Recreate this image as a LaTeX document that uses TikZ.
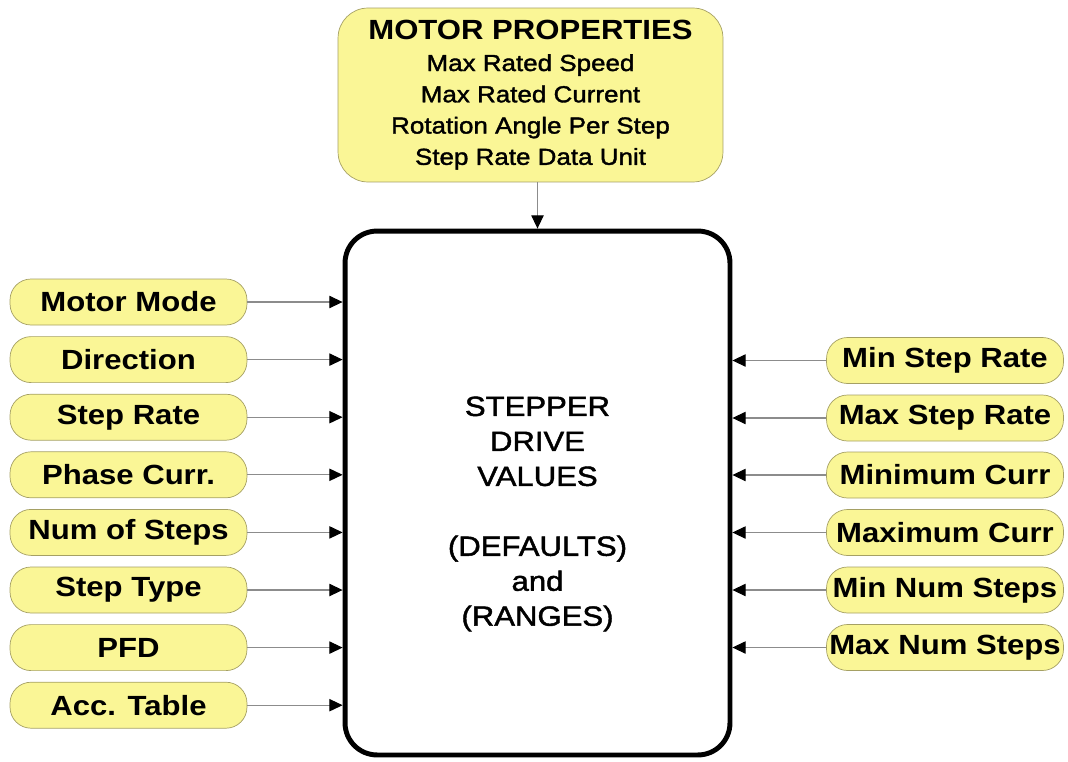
\documentclass[tikz,border=0pt]{standalone}
\usepackage{fontspec}
\setmainfont{Liberation Sans}[FakeStretch=1.12]
\newfontfamily\drivefont{Liberation Sans}[FakeStretch=1.12, FakeBold=1.6]
\usepackage{tikz}
\usepackage{xcolor}
\usetikzlibrary{arrows.meta, calc, positioning}

\definecolor{pillfill}{RGB}{250,246,150}
\definecolor{pillline}{RGB}{165,160,100}
\definecolor{feedline}{RGB}{140,140,140}

\begin{document}
\begin{tikzpicture}[x=0.02cm, y=-0.02cm,
        pill/.style={draw=pillline, fill=pillfill, rounded corners=0.42cm, minimum width=4.74cm, minimum height=0.92cm, inner sep=0pt, font=\fontsize{15.8}{17}\selectfont\bfseries},
        feed/.style={draw=feedline, line width=0.6pt, -{Triangle[length=7.5pt, width=7pt, color=black]}}]
                            \useasboundingbox (0, 0) rectangle (1068, 761);

                            \node[draw=pillline, fill=pillfill, rounded corners=0.6cm, minimum width=7.7cm, minimum height=3.48cm, align=center, font=\drivefont\fontsize{13.2}{17.8}\selectfont] (props) at (530.5, 95) {{\fontsize{15.8}{17.8}\selectfont\rmfamily\bfseries MOTOR PROPERTIES}\\Max Rated Speed\\Max Rated Current\\Rotation Angle Per Step\\Step Rate Data Unit};

                            \node[draw, line width=2.8pt, rounded corners=0.64cm, minimum width=7.7cm, minimum height=10.48cm] (drive) at (537.5, 493) {};
                            \node[align=center, font=\drivefont\fontsize{15.8}{19.9}\selectfont] (drivetext) at (537.5, 514) {STEPPER\\DRIVE\\VALUES\\[19.9pt](DEFAULTS)\\and\\(RANGES)};

                            \node[pill] (mode) at (128.5, 302) {Motor Mode};
                            \node[pill] (dir) at (128.5, 359.6) {Direction};
                            \node[pill] (rate) at (128.5, 417.2) {Step Rate};
                            \node[pill] (phase) at (128.5, 474.8) {Phase Curr.};
                            \node[pill] (steps) at (128.5, 532.4) {Num of Steps};
                            \node[pill] (type) at (128.5, 590) {Step Type};
                            \node[pill] (pfd) at (128.5, 647.6) {PFD};
                            \node[pill] (acc) at (128.5, 705.2) {Acc. Table};

                            \node[pill] (minrate) at (945, 360.5) {Min Step Rate};
                            \node[pill] (maxrate) at (945, 418) {Max Step Rate};
                            \node[pill] (mincurr) at (945, 475) {Minimum Curr};
                            \node[pill] (maxcurr) at (945, 532.5) {Maximum Curr};
                            \node[pill] (minsteps) at (945, 590) {Min Num Steps};
                            \node[pill] (maxsteps) at (945, 647.5) {Max Num Steps};

                            \draw[feed] (props.south -| drive.north) -- (drive.north);

                            \draw[feed] (mode) -- (mode -| drive.west);
                            \draw[feed] (dir) -- (dir -| drive.west);
                            \draw[feed] (rate) -- (rate -| drive.west);
                            \draw[feed] (phase) -- (phase -| drive.west);
                            \draw[feed] (steps) -- (steps -| drive.west);
                            \draw[feed] (type) -- (type -| drive.west);
                            \draw[feed] (pfd) -- (pfd -| drive.west);
                            \draw[feed] (acc) -- (acc -| drive.west);

                            \draw[feed] (minrate) -- (minrate -| drive.east);
                            \draw[feed] (maxrate) -- (maxrate -| drive.east);
                            \draw[feed] (mincurr) -- (mincurr -| drive.east);
                            \draw[feed] (maxcurr) -- (maxcurr -| drive.east);
                            \draw[feed] (minsteps) -- (minsteps -| drive.east);
                            \draw[feed] (maxsteps) -- (maxsteps -| drive.east);
                        \end{tikzpicture}
\end{document}
